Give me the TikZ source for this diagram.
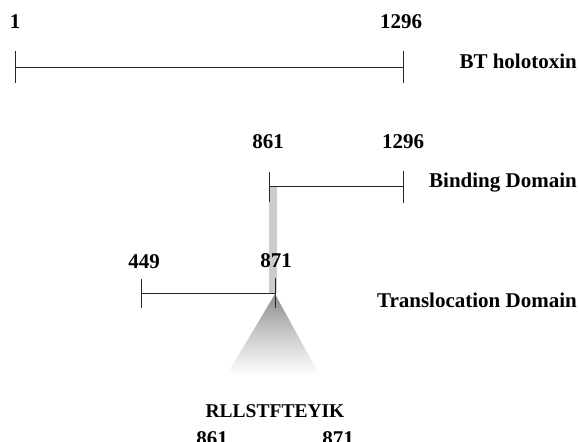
\documentclass[tikz,border=0pt]{standalone}
\usepackage{fontspec}
\setmainfont{Liberation Serif}
\begin{document}
\begin{tikzpicture}[x=1pt,y=-1pt,
  lbl/.style={font=\fontsize{21}{23}\selectfont\bfseries, inner sep=0pt, anchor=base},
  rlbl/.style={lbl, anchor=base east},
  seg/.style={line width=1pt, draw=black!85}]
\useasboundingbox (0,0) rectangle (579,442);
% top holotoxin
\coordinate (a1) at (15,67);
\coordinate (a2) at (403,67);
\draw[seg] (a1) -- (a2);
\draw[seg] (15,51) -- (15,83);
\draw[seg] (403,51) -- (403,83);
\node[lbl] (n1) at (15,28) {1};
\node[lbl] (n1296a) at (401,28) {1296};
\node[rlbl] (bt) at (577,68) {BT holotoxin};
% gray bar
\fill[black!20] (269,186) rectangle (277,293);
% binding
\coordinate (b1) at (269,186);
\coordinate (b2) at (403,186);
\draw[seg] (b1) -- (b2);
\draw[seg] (269,172) -- (269,202);
\draw[seg] (403,171) -- (403,203);
\node[lbl] (n861) at (268,148) {861};
\node[lbl] (n1296b) at (403,148) {1296};
\node[rlbl] (bd) at (577,187) {Binding Domain};
% triangle
\shade[top color=black!45, bottom color=white, middle color=black!20]
  (275,294) -- (320,376) -- (226,376) -- cycle;
% translocation
\coordinate (t1) at (141,293);
\coordinate (t2) at (275,293);
\draw[seg] (t1) -- (t2);
\draw[seg] (141,279) -- (141,308);
\draw[seg] (275,278) -- (275,308);
\node[lbl] (n449) at (144,268) {449};
\node[lbl] (n871) at (276,267) {871};
\node[rlbl] (td) at (577,307) {Translocation Domain};
% sequence
\node[lbl, font=\fontsize{19.5}{22}\selectfont\bfseries] (seq) at (275,417) {RLLSTFTEYIK};
\node[lbl] (s861) at (212,445) {861};
\node[lbl] (s871) at (338,445) {871};
\end{tikzpicture}
\end{document}
